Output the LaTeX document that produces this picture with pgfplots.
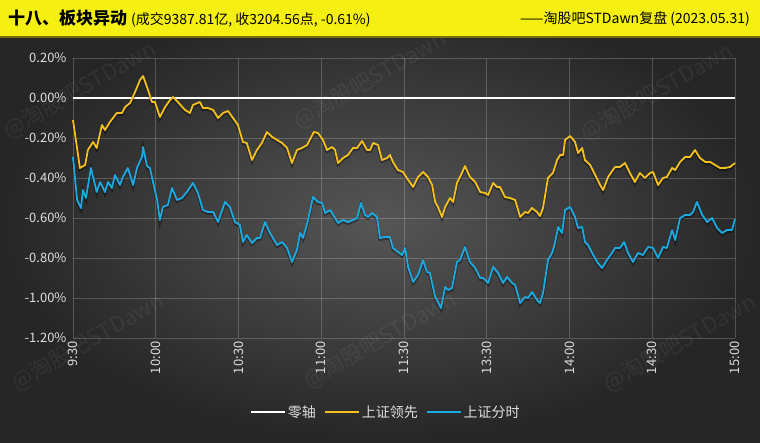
\documentclass[border=0pt]{standalone}
\usepackage{fontspec}
\setmainfont{Noto Sans CJK SC}
\usepackage{pgfplots}
\usepackage{pgfplotstable}
\pgfplotsset{compat=1.18}
\definecolor{bgin}{RGB}{86,86,86}
\definecolor{bgout}{RGB}{38,38,38}
\definecolor{titlebar}{RGB}{246,240,18}
\definecolor{titleline}{RGB}{120,112,10}
\definecolor{lead}{RGB}{244,193,30}
\definecolor{fens}{RGB}{28,170,226}
\definecolor{ticktext}{RGB}{222,222,222}

\pgfplotstableread{
m v
0 -0.11
2.5 -0.35
4.4 -0.335
5.4 -0.26
7.3 -0.22
8.6 -0.25
10.5 -0.135
11.6 -0.16
13.4 -0.12
15.9 -0.075
17.8 -0.075
18.9 -0.045
20.7 -0.025
22.5 0.03
24.3 0.09
25.4 0.11
27.2 0.04
28.6 -0.02
29.7 -0.02
31.5 -0.095
33.4 -0.045
35.2 -0.01
36.3 0.005
38 -0.02
40.6 -0.06
42.4 -0.075
43.5 -0.035
46 -0.02
47.1 -0.05
48.9 -0.05
50.8 -0.06
52.6 -0.10
54.4 -0.075
56.2 -0.065
58 -0.10
59.8 -0.135
61.6 -0.22
63 -0.225
64.9 -0.31
66.7 -0.26
68.5 -0.225
70.3 -0.17
72.2 -0.195
74 -0.21
75.8 -0.225
77.6 -0.25
79.4 -0.325
81.2 -0.26
83 -0.25
84.9 -0.235
87.3 -0.17
88.8 -0.175
90.6 -0.21
92.1 -0.26
93.9 -0.245
95 -0.26
96.1 -0.325
97.9 -0.30
99.7 -0.285
101.5 -0.25
103 -0.25
104.8 -0.215
106.6 -0.26
107.7 -0.26
108.8 -0.225
110.6 -0.235
112 -0.31
113.9 -0.30
114.9 -0.285
116 -0.32
117.8 -0.36
119.6 -0.37
121.5 -0.41
123.3 -0.445
125.1 -0.395
126.9 -0.37
128.7 -0.395
130.2 -0.435
131.3 -0.52
132.3 -0.545
133.8 -0.595
134.9 -0.545
136.7 -0.50
137.8 -0.52
139.2 -0.425
141 -0.375
142.1 -0.34
143.9 -0.395
145.8 -0.42
147.6 -0.47
149.4 -0.475
150.5 -0.485
152.3 -0.425
153.7 -0.445
154.8 -0.445
156.6 -0.495
158.4 -0.50
160.3 -0.51
162.1 -0.595
163.9 -0.57
165 -0.575
166.4 -0.55
168.2 -0.57
169.3 -0.59
170.4 -0.55
172.2 -0.40
174 -0.375
175.5 -0.31
176.6 -0.285
177.7 -0.285
178.4 -0.21
180.2 -0.19
182 -0.22
183.1 -0.275
184.6 -0.25
185.6 -0.31
187.5 -0.335
189.3 -0.385
191.1 -0.435
192.2 -0.46
194 -0.395
196.5 -0.345
198.3 -0.345
200.1 -0.325
201.9 -0.375
203.7 -0.42
205.5 -0.375
207.3 -0.40
209.2 -0.375
210.3 -0.37
212.1 -0.435
213.9 -0.40
215.3 -0.395
217.2 -0.35
218.3 -0.36
220.1 -0.32
221.9 -0.295
223.7 -0.295
225.5 -0.26
227.3 -0.30
229.2 -0.32
231 -0.32
232.8 -0.335
234.6 -0.35
236.4 -0.35
238.2 -0.345
240 -0.325
}\leaddata

\pgfplotstableread{
m v
0 -0.295
1.5 -0.51
2.9 -0.55
3.6 -0.46
4.7 -0.50
6.5 -0.35
8.6 -0.47
9.8 -0.42
11.6 -0.47
12.7 -0.42
14.1 -0.45
15.2 -0.385
17 -0.435
18.1 -0.395
19.9 -0.35
21.8 -0.435
23.2 -0.35
25 -0.295
25.4 -0.245
26.8 -0.34
27.9 -0.35
29 -0.42
30.5 -0.51
31.5 -0.61
32.6 -0.545
34.4 -0.535
35.9 -0.45
37.7 -0.51
39.5 -0.50
41.3 -0.47
43.5 -0.425
45.3 -0.475
47.1 -0.56
48.9 -0.57
50.8 -0.57
52.6 -0.62
55.1 -0.52
56.9 -0.545
58.7 -0.62
60.5 -0.635
61.6 -0.72
63 -0.685
64.9 -0.725
66.7 -0.70
67.8 -0.70
69.6 -0.62
71.4 -0.675
74 -0.735
75.8 -0.72
77.6 -0.75
79.4 -0.82
81.2 -0.76
82.3 -0.675
83.4 -0.70
85.2 -0.61
87 -0.495
88.8 -0.52
90.3 -0.525
91.4 -0.575
93.2 -0.56
95 -0.60
96.1 -0.625
97.9 -0.61
99.7 -0.62
101.5 -0.61
103 -0.60
104.4 -0.525
105.9 -0.585
107 -0.595
108.4 -0.575
110.2 -0.595
111.3 -0.70
113.1 -0.695
114.9 -0.695
116 -0.75
117.8 -0.77
119.3 -0.785
120.4 -0.75
121.5 -0.845
123.3 -0.92
125.1 -0.885
126.9 -0.81
128.3 -0.87
129.4 -0.875
131.3 -0.995
132.3 -1.02
133.4 -1.05
134.9 -0.945
136 -0.96
137.4 -0.95
139.2 -0.82
140.3 -0.81
142.1 -0.745
143.9 -0.82
145.8 -0.85
147.6 -0.90
148.7 -0.90
150.5 -0.925
152.3 -0.845
154.1 -0.875
155.9 -0.925
157.4 -0.895
159.2 -0.925
160.3 -0.935
162.1 -1.025
163.9 -0.995
165 -1.0
166.4 -0.97
168.2 -1.01
169.3 -1.025
170.4 -0.975
172.2 -0.81
173.7 -0.775
174.8 -0.72
175.9 -0.645
177.3 -0.675
178.4 -0.56
180.2 -0.545
182 -0.595
183.1 -0.65
184.6 -0.645
185.6 -0.72
186.7 -0.735
188.2 -0.775
190 -0.82
191.8 -0.85
193.6 -0.81
195.4 -0.775
196.5 -0.75
198.3 -0.75
199.8 -0.72
201.2 -0.775
203 -0.82
204.8 -0.775
206.6 -0.785
208.5 -0.745
210.3 -0.75
212.1 -0.80
213.9 -0.745
215.3 -0.75
217.2 -0.66
218.3 -0.71
220.1 -0.60
221.9 -0.585
223.7 -0.585
224.8 -0.57
226.2 -0.52
228.1 -0.585
229.9 -0.62
231.7 -0.60
233.5 -0.65
235.3 -0.675
237.1 -0.66
238.9 -0.66
240 -0.605
}\fensdata

\begin{document}
\begin{tikzpicture}
\useasboundingbox (0pt,0pt) rectangle (760pt,442pt);
\shade[inner color=bgin, outer color=bgout] (0pt,0pt) rectangle (760pt,442pt);
% watermarks
\foreach \wx/\wy in {80/352, 370/362, 657/350, 88/100, 380/102, 680/99}{
  \node[rotate=30, text=white, opacity=0.06, font=\fontsize{22}{24}\selectfont] at (\wx pt,\wy pt) {@淘股吧STDawn};
}
\fill[titlebar] (0pt,405pt) rectangle (760pt,442pt);
\draw[titleline, line width=1.2pt] (0pt,405pt) -- (760pt,405pt);
\node[anchor=west, inner sep=0pt] at (8pt,423pt) {\fontsize{17}{20}\selectfont\bfseries 十八、板块异动\ \fontsize{14}{17}\selectfont\mdseries (成交9387.81亿, 收3204.56点, -0.61\%)};
\node[anchor=east, inner sep=0pt] at (750pt,423pt) {\fontsize{14}{17}\selectfont ——淘股吧STDawn复盘 (2023.05.31)};
\begin{axis}[
  at={(73pt,104pt)}, anchor=south west,
  scale only axis, width=662pt, height=280pt,
  xmin=0, xmax=240, ymin=-1.2, ymax=0.2,
  xtick={0,30,60,90,120,150,180,210,240},
  xticklabels={9:30,10:00,10:30,11:00,11:30,13:30,14:00,14:30,15:00},
  ytick={-1.2,-1,-0.8,-0.6,-0.4,-0.2,0,0.2},
  yticklabels={-1.20\%,-1.00\%,-0.80\%,-0.60\%,-0.40\%,-0.20\%,0.00\%,0.20\%},
  axis line style={draw=none},
  major tick length=0pt,
  grid=major,
  major grid style={draw=white, opacity=0.2, line width=0.8pt},
  xticklabel style={rotate=90, anchor=east, text=ticktext, font=\fontsize{13}{15}\selectfont},
  yticklabel style={text=ticktext, font=\fontsize{13}{15}\selectfont, xshift=-3pt},
  clip=false,
  legend columns=3,
  legend style={at={(0.473,-0.264)}, anchor=center, draw=none, fill=none,
    text=ticktext, font=\fontsize{14}{16}\selectfont,
    /tikz/every even column/.append style={column sep=6pt}},
  legend image code/.code={\draw[#1] (0pt,0pt) -- (34pt,0pt);},
]
\addplot[white, line width=1.3pt] coordinates {(0,0) (240,0)};
\addlegendentry{零轴}
\addplot[black, opacity=0.35, line width=3pt, yshift=-1.5pt, forget plot] table[x=m,y=v] {\leaddata};
\addplot[black, opacity=0.35, line width=3pt, yshift=-1.5pt, forget plot] table[x=m,y=v] {\fensdata};
\addplot[lead, line width=1.8pt, line join=round] table[x=m,y=v] {\leaddata};
\addlegendentry{上证领先}
\addplot[fens, line width=1.8pt, line join=round] table[x=m,y=v] {\fensdata};
\addlegendentry{上证分时}
\end{axis}
\end{tikzpicture}
\end{document}
